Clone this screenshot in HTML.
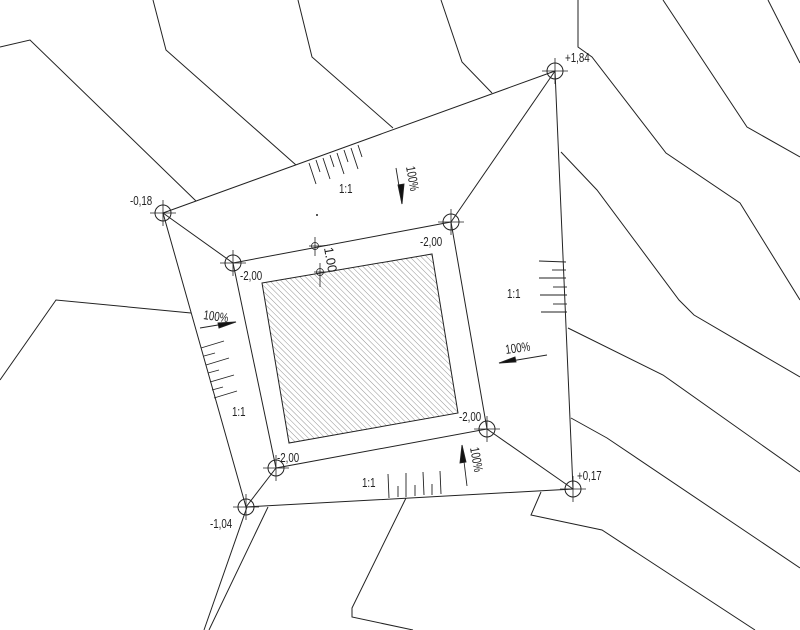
<!DOCTYPE html>
<html><head><meta charset="utf-8"><style>
html,body{margin:0;padding:0;background:#fff}
svg{display:block}
text{font-family:"Liberation Sans",sans-serif;font-size:13px;fill:#222}
</style></head><body>
<svg width="800" height="630" viewBox="0 0 800 630" xmlns="http://www.w3.org/2000/svg">
<defs>
<pattern id="h" width="4" height="4" patternUnits="userSpaceOnUse" patternTransform="rotate(-45)">
<line x1="0" y1="0" x2="0" y2="4" stroke="#777" stroke-width="0.8"/>
</pattern>
<g id="n"><circle r="8" fill="none" stroke="#222" stroke-width="1"/><line x1="-13" y1="0" x2="13" y2="0" stroke="#222" stroke-width="0.8"/><line x1="0" y1="-13" x2="0" y2="13" stroke="#222" stroke-width="0.8"/></g>
</defs>
<g fill="none" stroke="#222" stroke-width="1">
<polyline points="0,47 30,40 196,201"/>
<polyline points="153,0 166,50 296,165"/>
<polyline points="298,0 312,57 393,128"/>
<polyline points="441,0 462,62 492,93"/>
<polyline points="578,0 578,47 592,57 666,153 740,203 800,300"/>
<polyline points="663,0 747,127 800,157"/>
<polyline points="768,0 800,63"/>
<polyline points="561,152 597,190 679,300 694,315 800,377"/>
<polyline points="568,328 663,375 800,472"/>
<polyline points="571,418 607,438 800,568"/>
<polyline points="541,492 531,515 602,530 755,630"/>
<polyline points="406,498 352,608 352,617 413,630"/>
<polyline points="0,380 56,300 191,313"/>
<line x1="247" y1="507" x2="204" y2="630"/>
<line x1="268" y1="507" x2="209" y2="630"/>
<polygon points="163,213 555,71 573,489 246,507"/>
<polygon points="233,263 451,222 487,429 276,468"/>
<line x1="163" y1="213" x2="233" y2="263"/>
<line x1="555" y1="71" x2="451" y2="222"/>
<line x1="573" y1="489" x2="487" y2="429"/>
<line x1="246" y1="507" x2="276" y2="468"/>
</g>
<polygon points="262,283 432,254 458,413 289,443" fill="url(#h)" stroke="#222" stroke-width="1"/>
<g stroke="#222" stroke-width="0.9">
<line x1="309" y1="163" x2="316" y2="184"/><line x1="316" y1="160" x2="320" y2="172"/>
<line x1="323" y1="158" x2="330" y2="179"/><line x1="330" y1="155" x2="334" y2="167"/>
<line x1="337" y1="153" x2="344" y2="174"/><line x1="344" y1="150" x2="348" y2="162"/>
<line x1="351" y1="148" x2="358" y2="169"/><line x1="358" y1="145" x2="362" y2="157"/>
<line x1="389" y1="498" x2="388" y2="474"/><line x1="398" y1="497" x2="398" y2="486"/>
<line x1="406" y1="497" x2="406" y2="473"/><line x1="415" y1="496" x2="415" y2="485"/>
<line x1="424" y1="495" x2="423" y2="472"/><line x1="432" y1="495" x2="432" y2="484"/>
<line x1="441" y1="494" x2="440" y2="471"/>
<line x1="566" y1="262" x2="539" y2="261"/><line x1="566" y1="270" x2="552" y2="270"/>
<line x1="566" y1="278" x2="539" y2="278"/><line x1="567" y1="287" x2="553" y2="287"/>
<line x1="567" y1="295" x2="540" y2="295"/><line x1="567" y1="304" x2="553" y2="304"/>
<line x1="567" y1="312" x2="541" y2="312"/>
<line x1="201" y1="348" x2="224" y2="341"/><line x1="204" y1="356" x2="215" y2="353"/>
<line x1="206" y1="365" x2="229" y2="358"/><line x1="208" y1="373" x2="219" y2="370"/>
<line x1="210" y1="382" x2="234" y2="375"/><line x1="212" y1="390" x2="223" y2="387"/>
<line x1="214" y1="398" x2="237" y2="391"/>
</g>
<g stroke="#222" stroke-width="0.9" fill="#111">
<line x1="396" y1="168" x2="402" y2="204"/><polygon points="398,185 404,184 402,204"/>
<line x1="200" y1="328" x2="236" y2="322"/><polygon points="218,323 236,322 219,328"/>
<line x1="547" y1="355" x2="499" y2="363"/><polygon points="499,363 515,357 516,362"/>
<line x1="467" y1="486" x2="462" y2="445"/><polygon points="462,445 460,463 466,462"/>
</g>
<g fill="none" stroke="#222" stroke-width="0.8">
<circle cx="315" cy="246" r="3.5"/><line x1="315" y1="237" x2="315" y2="256"/><line x1="309" y1="246" x2="321" y2="246"/>
<circle cx="320" cy="272" r="3.5"/><line x1="320" y1="263" x2="320" y2="287"/><line x1="314" y1="272" x2="326" y2="272"/>
<line x1="320" y1="246" x2="330" y2="245"/>
</g>
<circle cx="317" cy="215" r="1" fill="#222"/>
<text transform="translate(324,248) rotate(80)" font-size="17">1.00</text>
<use href="#n" x="163" y="213"/><use href="#n" x="555" y="71"/>
<use href="#n" x="573" y="489"/><use href="#n" x="246" y="507"/>
<use href="#n" x="233" y="263"/><use href="#n" x="451" y="222"/>
<use href="#n" x="487" y="429"/><use href="#n" x="276" y="468"/>
<text transform="translate(565,62) scale(0.75,1)">+1,84</text>
<text transform="translate(130,205) scale(0.75,1)">-0,18</text>
<text transform="translate(577,480) scale(0.75,1)">+0,17</text>
<text transform="translate(210,528) scale(0.75,1)">-1,04</text>
<text transform="translate(420,246) scale(0.75,1)">-2,00</text>
<text transform="translate(240,280) scale(0.75,1)">-2,00</text>
<text transform="translate(459,421) scale(0.75,1)">-2,00</text>
<text transform="translate(277,462) scale(0.75,1)">-2,00</text>
<text transform="translate(339,193) scale(0.75,1)">1:1</text>
<text transform="translate(507,298) scale(0.75,1)">1:1</text>
<text transform="translate(232,416) scale(0.75,1)">1:1</text>
<text transform="translate(362,487) scale(0.75,1)">1:1</text>
<text transform="translate(203,319) rotate(8) scale(0.75,1)">100%</text>
<text transform="translate(506,354) rotate(-8) scale(0.75,1)">100%</text>
<text transform="translate(406,167) rotate(80) scale(0.75,1)">100%</text>
<text transform="translate(470,448) rotate(80) scale(0.75,1)">100%</text>
</svg>
</body></html>
